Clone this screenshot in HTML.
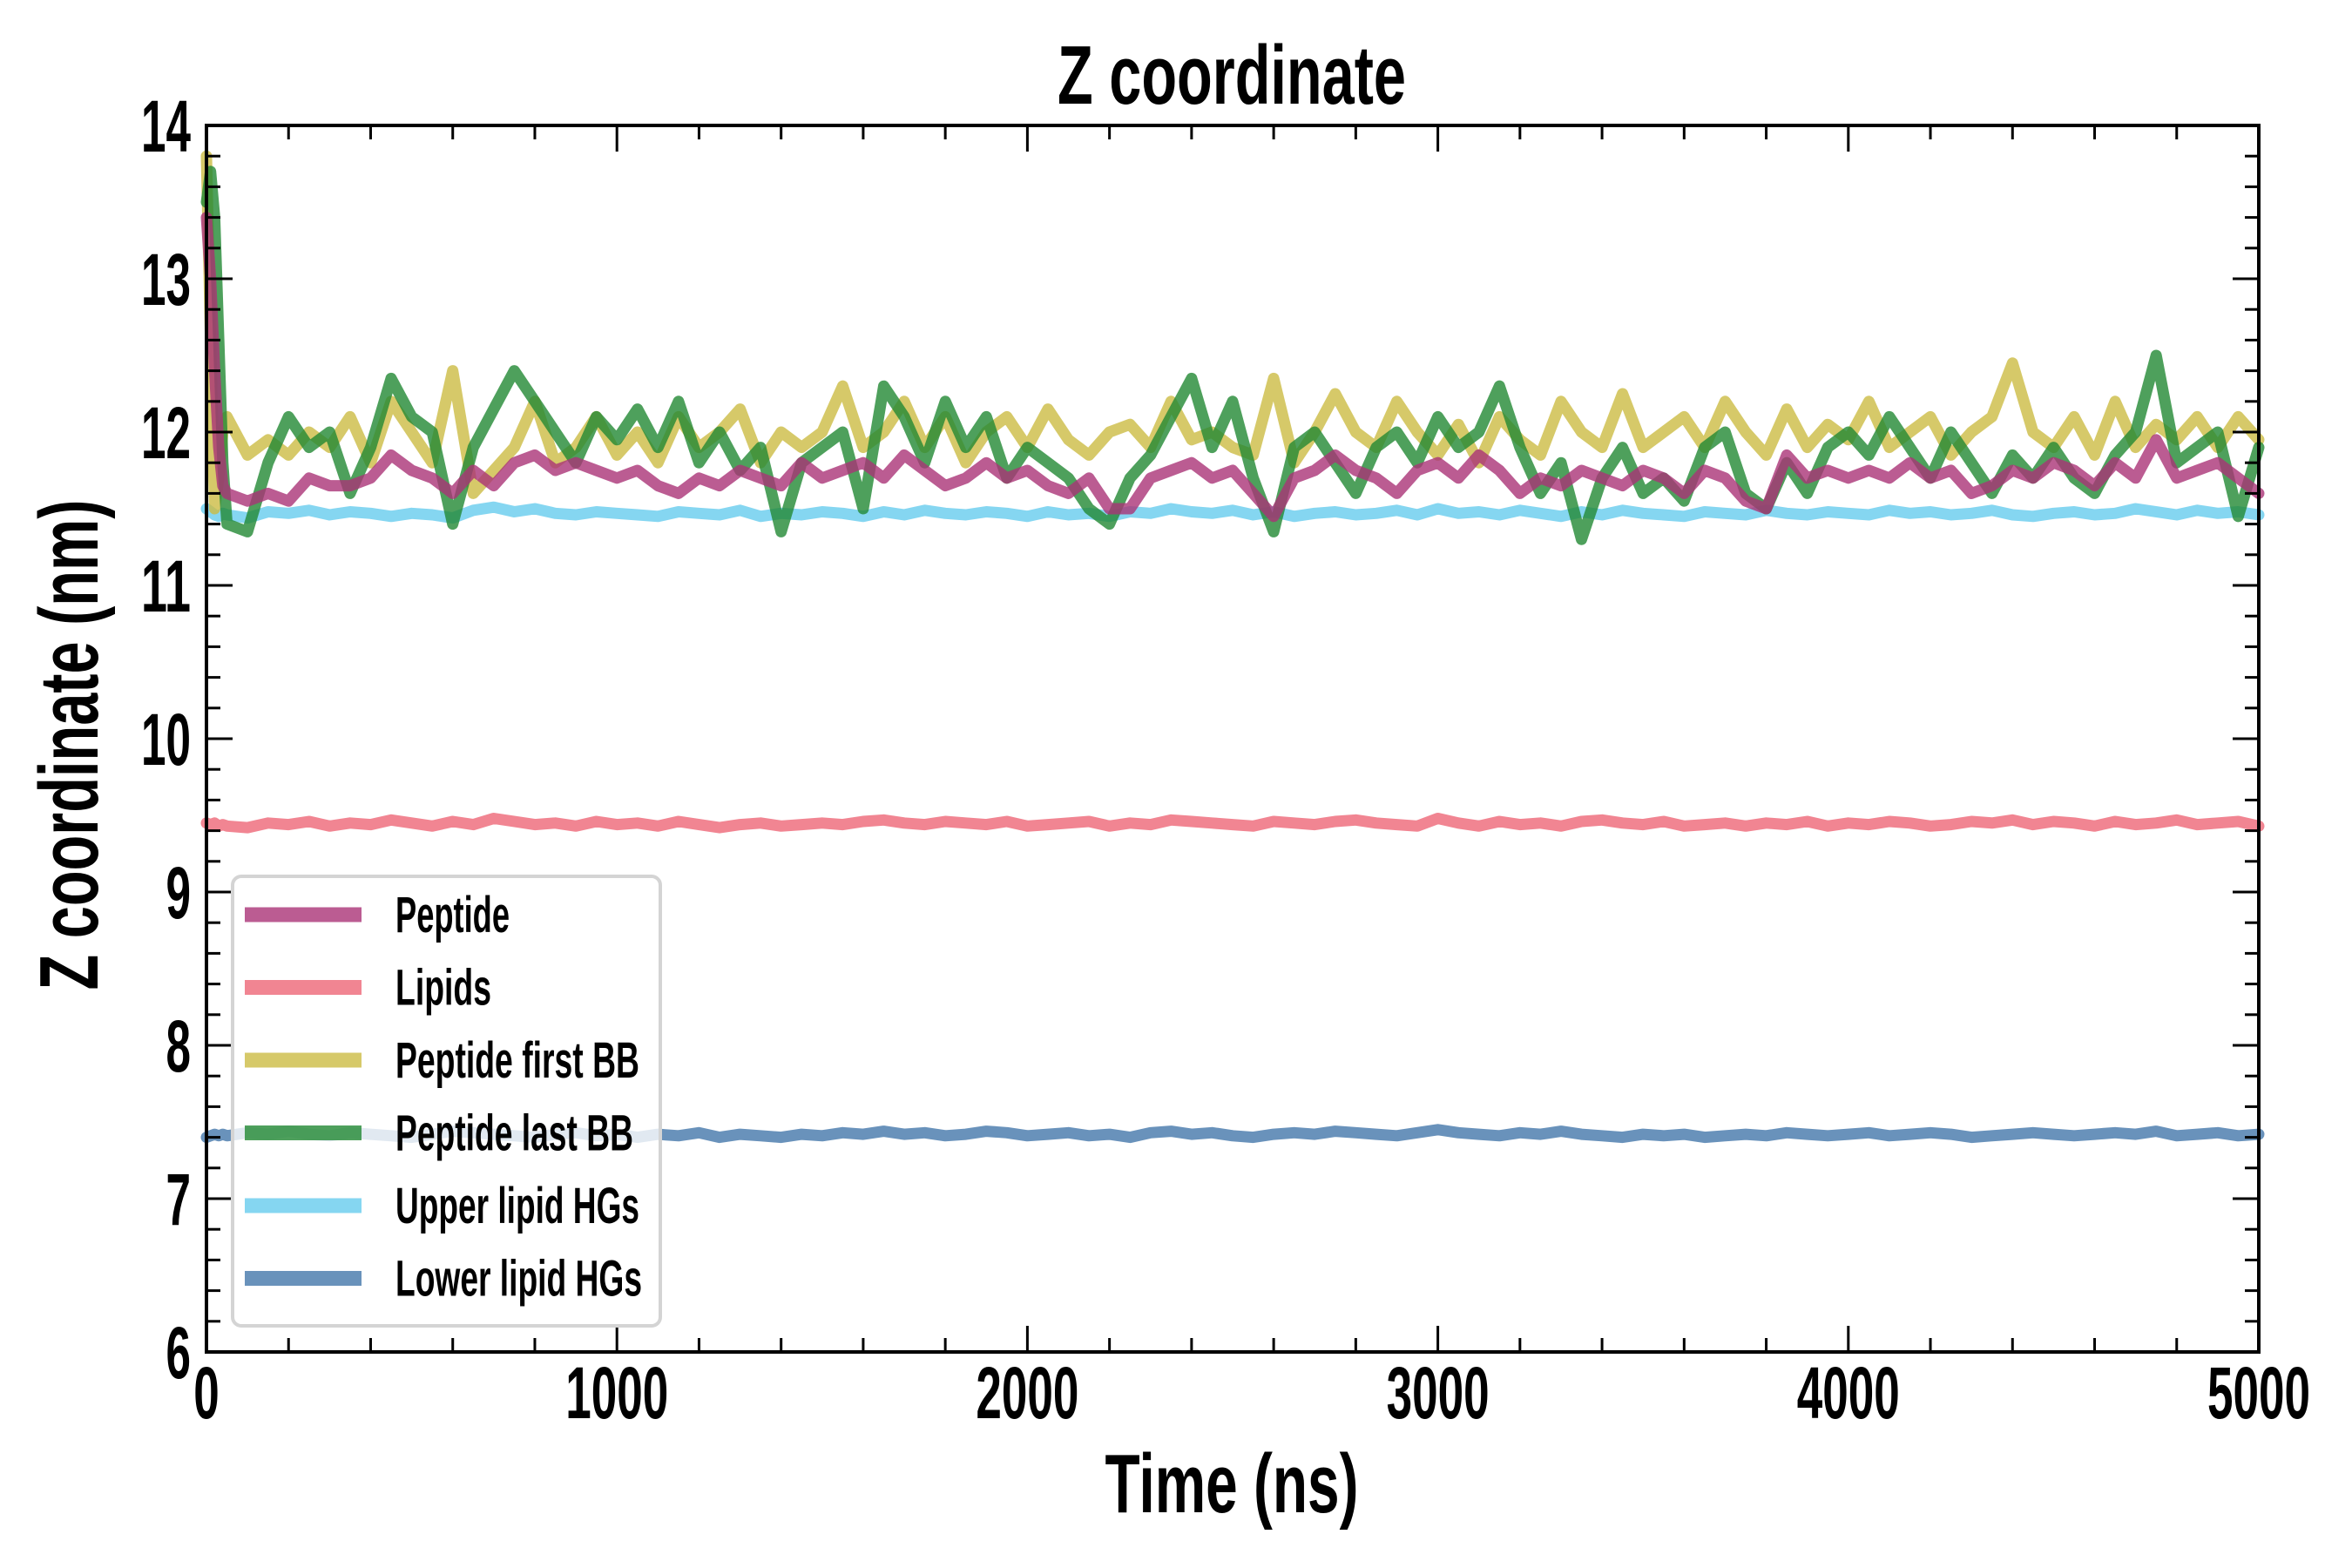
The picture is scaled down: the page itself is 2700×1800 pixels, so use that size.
<!DOCTYPE html>
<html><head><meta charset="utf-8"><style>
html,body{margin:0;padding:0;background:#fff}
svg{display:block}
text{font-family:"Liberation Sans Narrow","Liberation Sans",sans-serif;font-weight:bold;fill:#000}
</style></head><body>
<svg id="chart" width="2700" height="1800" viewBox="0 0 2700 1800" xmlns="http://www.w3.org/2000/svg">
<rect width="2700" height="1800" fill="#fff"/>
<text x="1414" y="119" text-anchor="middle" font-size="96" textLength="400" lengthAdjust="spacingAndGlyphs">Z coordinate</text>
<text x="1414" y="1736" text-anchor="middle" font-size="96" textLength="291" lengthAdjust="spacingAndGlyphs">Time (ns)</text>
<text transform="translate(112,855) rotate(-90)" text-anchor="middle" font-size="96" textLength="563" lengthAdjust="spacingAndGlyphs">Z coordinate (nm)</text>
<g id="series"></g>
<g id="axes"></g>
<g id="legend"></g>
</svg>
<script>
const xTicks = [0,1000,2000,3000,4000,5000];
const yTicks = [6,7,8,9,10,11,12,13,14];
const earlyTimes = [0,10,20,30,40];
const seriesNames = ["Peptide","Lipids","Peptide first BB","Peptide last BB","Upper lipid HGs","Lower lipid HGs"];
const peptide = [13.4,13.0,12.4,11.9,11.65,
11.6,11.55,11.6,11.55,11.7,11.65,11.65,11.7,11.85,11.75,
11.7,11.6,11.75,11.65,11.8,11.85,11.75,11.8,11.75,11.7,
11.75,11.65,11.6,11.7,11.65,11.75,11.7,11.65,11.8,11.7,
11.75,11.8,11.7,11.85,11.75,11.65,11.7,11.8,11.7,11.75,
11.65,11.6,11.7,11.5,11.5,11.7,11.75,11.8,11.7,11.75,
11.6,11.45,11.7,11.75,11.85,11.75,11.7,11.6,11.75,11.8,
11.7,11.85,11.75,11.6,11.7,11.65,11.75,11.7,11.65,11.75,
11.7,11.6,11.75,11.7,11.55,11.5,11.85,11.7,11.75,11.7,
11.75,11.7,11.8,11.7,11.75,11.6,11.65,11.75,11.7,11.8,
11.75,11.65,11.8,11.7,11.95,11.7,11.75,11.8,11.7,11.6];
const lastBB = [13.5,13.7,13.4,12.6,11.8,
11.4,11.35,11.8,12.1,11.9,12.0,11.6,11.9,12.35,12.1,
12.0,11.4,11.9,12.15,12.4,12.2,12.0,11.8,12.1,11.95,
12.15,11.9,12.2,11.8,12.0,11.75,11.9,11.35,11.8,11.9,
12.0,11.5,12.3,12.1,11.8,12.2,11.9,12.1,11.7,11.9,
11.8,11.7,11.5,11.4,11.7,11.85,12.1,12.35,11.9,12.2,
11.7,11.35,11.9,12.0,11.8,11.6,11.9,12.0,11.8,12.1,
11.9,12.0,12.3,11.9,11.6,11.8,11.3,11.7,11.9,11.6,
11.7,11.55,11.9,12.0,11.6,11.5,11.8,11.6,11.9,12.0,
11.85,12.1,11.9,11.7,12.0,11.8,11.6,11.85,11.7,11.9,
11.7,11.6,11.85,12.0,12.5,11.8,11.9,12.0,11.45,11.9];
const firstBB = [13.8,12.6,11.5,11.7,12.0,
12.1,11.85,11.95,11.85,12.0,11.9,12.1,11.8,12.2,12.0,
11.8,12.4,11.6,11.75,11.9,12.2,11.8,11.9,12.1,11.85,
12.0,11.8,12.1,11.9,12.0,12.15,11.8,12.0,11.9,12.0,
12.3,11.9,12.0,12.2,11.9,12.1,11.8,12.0,12.1,11.9,
12.15,11.95,11.85,12.0,12.05,11.9,12.2,11.95,12.0,11.9,
11.85,12.35,11.8,12.0,12.25,12.0,11.9,12.2,12.0,11.85,
12.05,11.8,12.1,11.95,11.85,12.2,12.0,11.9,12.25,11.9,
12.0,12.1,11.9,12.2,12.0,11.85,12.15,11.9,12.05,11.95,
12.2,11.9,12.0,12.1,11.85,12.0,12.1,12.45,12.0,11.9,
12.1,11.85,12.2,11.9,12.05,11.95,12.1,11.9,12.1,11.95];
const lipids = [9.45,9.44,9.45,9.43,9.44,
9.43,9.42,9.45,9.44,9.46,9.43,9.45,9.44,9.47,9.45,
9.43,9.46,9.44,9.48,9.46,9.44,9.45,9.43,9.46,9.44,
9.45,9.43,9.46,9.44,9.42,9.44,9.45,9.43,9.44,9.45,
9.44,9.46,9.47,9.45,9.44,9.46,9.45,9.44,9.46,9.43,
9.44,9.45,9.46,9.43,9.45,9.44,9.47,9.46,9.45,9.44,
9.43,9.46,9.45,9.44,9.46,9.47,9.45,9.44,9.43,9.48,
9.45,9.43,9.46,9.44,9.45,9.43,9.46,9.47,9.45,9.44,
9.46,9.43,9.44,9.45,9.43,9.45,9.44,9.46,9.43,9.45,
9.44,9.46,9.45,9.43,9.44,9.46,9.45,9.47,9.44,9.46,
9.45,9.43,9.46,9.44,9.45,9.47,9.44,9.45,9.46,9.43];
const upperHG = [11.5,11.48,11.46,11.45,11.47,
11.46,11.44,11.48,11.47,11.49,11.46,11.48,11.47,11.45,11.47,
11.46,11.44,11.49,11.51,11.48,11.5,11.47,11.46,11.48,11.47,
11.46,11.45,11.48,11.47,11.46,11.49,11.45,11.47,11.46,11.48,
11.47,11.45,11.48,11.46,11.49,11.47,11.46,11.48,11.47,11.45,
11.48,11.46,11.47,11.45,11.48,11.47,11.5,11.48,11.47,11.49,
11.46,11.48,11.45,11.47,11.48,11.46,11.47,11.49,11.46,11.5,
11.47,11.48,11.46,11.49,11.47,11.45,11.48,11.46,11.49,11.47,
11.46,11.45,11.48,11.47,11.46,11.49,11.47,11.46,11.48,11.47,
11.46,11.49,11.47,11.48,11.46,11.47,11.49,11.46,11.45,11.47,
11.48,11.46,11.47,11.5,11.48,11.46,11.49,11.47,11.48,11.46];
const lowerHG = [7.4,7.41,7.42,7.41,7.42,
7.41,7.43,7.42,7.44,7.42,7.41,7.43,7.42,7.41,7.4,
7.42,7.44,7.43,7.42,7.41,7.4,7.42,7.43,7.41,7.42,
7.4,7.42,7.41,7.43,7.4,7.42,7.41,7.4,7.42,7.41,
7.43,7.42,7.44,7.42,7.43,7.41,7.42,7.44,7.43,7.41,
7.42,7.43,7.41,7.42,7.4,7.43,7.44,7.42,7.43,7.41,
7.4,7.42,7.43,7.42,7.44,7.43,7.42,7.41,7.43,7.45,
7.43,7.42,7.41,7.43,7.42,7.44,7.42,7.41,7.4,7.42,
7.41,7.42,7.4,7.41,7.42,7.41,7.43,7.42,7.41,7.42,
7.43,7.41,7.42,7.43,7.42,7.4,7.41,7.42,7.43,7.42,
7.41,7.42,7.43,7.42,7.44,7.41,7.42,7.43,7.41,7.42];

const times = earlyTimes.slice();
for (let t = 50; t <= 5000; t += 50) times.push(t);

const L = 237, R = 2593, T = 144, B = 1552;
const xMin = 0, xMax = 5000, yMin = 6, yMax = 14;
const xs = v => L + (v - xMin) / (xMax - xMin) * (R - L);
const ys = v => B - (v - yMin) / (yMax - yMin) * (B - T);
const NS = "http://www.w3.org/2000/svg";
function mk(tag, parent, attrs) {
  const e = document.createElementNS(NS, tag);
  for (const k in attrs) e.setAttribute(k, attrs[k]);
  parent.appendChild(e);
  return e;
}

const seriesData = [peptide, lipids, firstBB, lastBB, upperHG, lowerHG];
const seriesColors = ["#AA3377","#EE6677","#CCBB44","#228833","#66CCEE","#4477AA"];
const drawOrder = [4,5,1,2,3,0];
const seriesG = document.getElementById("series");
const seriesSlugs = ["peptide","lipids","peptide-first-bb","peptide-last-bb","upper-lipid-hgs","lower-lipid-hgs"];
drawOrder.forEach(i => {
  const d = seriesData[i].map((v, k) => (k ? "L" : "M") + xs(times[k]).toFixed(1) + "," + ys(v).toFixed(1)).join("");
  const p = mk("path", seriesG, {d: d, fill: "none", stroke: seriesColors[i], "stroke-width": 13, "stroke-opacity": 0.8, "stroke-linejoin": "round", "stroke-linecap": "round"});
  
  
});

const axes = document.getElementById("axes");
for (let t = 0; t <= 5000; t += 200) {
  const x = xs(t);
  const major = t % 1000 === 0;
  const len = major ? 30 : 16;
  const a = mk("line", axes, {x1: x, x2: x, y1: B, y2: B - len, stroke: "#000", "stroke-width": 3});
  
  
  const b = mk("line", axes, {x1: x, x2: x, y1: T, y2: T + len, stroke: "#000", "stroke-width": 3});
  
  
}
for (let k = 0; k <= 40; k++) {
  const v = 6 + k * 0.2;
  const y = ys(v);
  const major = k % 5 === 0;
  const len = major ? 30 : 16;
  const a = mk("line", axes, {x1: L, x2: L + len, y1: y, y2: y, stroke: "#000", "stroke-width": 3});
  
  
  const b = mk("line", axes, {x1: R, x2: R - len, y1: y, y2: y, stroke: "#000", "stroke-width": 3});
  
  
}
xTicks.forEach(t => {
  const s = String(t);
  const tx = mk("text", axes, {x: xs(t), y: 1628, "text-anchor": "middle", "font-size": 84, textLength: s.length * 29.5, lengthAdjust: "spacingAndGlyphs"});
  tx.textContent = s;
  
  
});
yTicks.forEach(v => {
  const s = String(v);
  const tx = mk("text", axes, {x: 219, y: ys(v) + 30, "text-anchor": "end", "font-size": 84, textLength: s.length * 28.5, lengthAdjust: "spacingAndGlyphs"});
  tx.textContent = s;
  
  
});
const frame = mk("rect", axes, {x: L, y: T, width: R - L, height: B - T, fill: "none", stroke: "#000", "stroke-width": 4});



const legend = document.getElementById("legend");
const box = mk("rect", legend, {x: 267, y: 1006, width: 491, height: 516, rx: 10, fill: "#fff", "fill-opacity": 0.8, stroke: "#d4d4d4", "stroke-width": 4});


const labelWidths = [131, 110, 280, 273, 280, 283];
seriesNames.forEach((n, i) => {
  const y = 1050 + i * 83.5;
  const ln = mk("line", legend, {x1: 281, x2: 415, y1: y, y2: y, stroke: seriesColors[i], "stroke-opacity": 0.8, "stroke-width": 17});
  
  
  const tx = mk("text", legend, {x: 454, y: y + 20, "font-size": 58, textLength: labelWidths[i], lengthAdjust: "spacingAndGlyphs"});
  tx.textContent = n;
  
  
});
</script>
</body></html>
